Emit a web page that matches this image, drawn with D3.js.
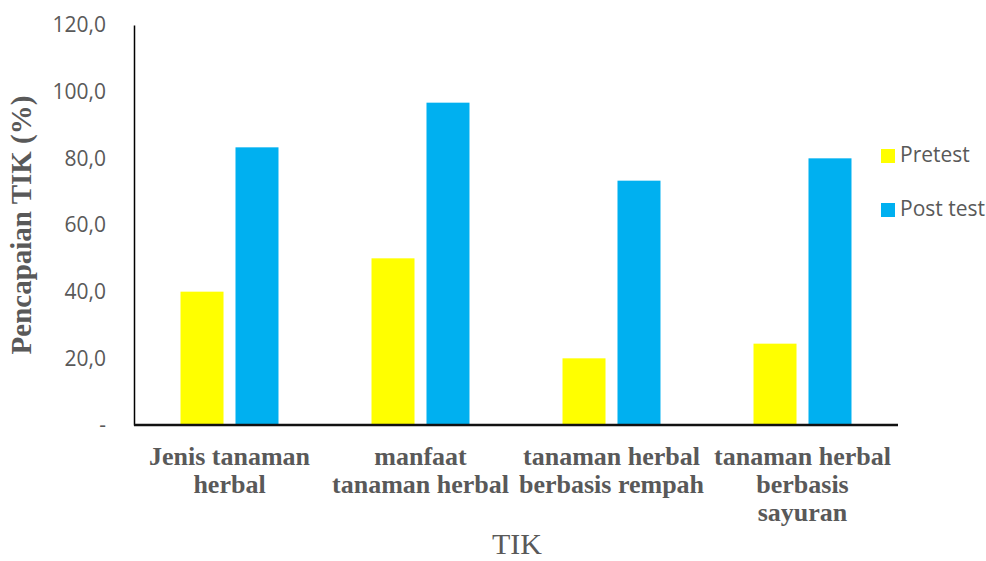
<!DOCTYPE html>
<html>
<head>
<meta charset="utf-8">
<script src="https://cdn.jsdelivr.net/npm/d3@7"></script>
<style>
  body { margin: 0; background: #fff; }
  svg { display: block; }
</style>
</head>
<body>
<svg width="986" height="561"></svg>
<script>
const categories = [
  ["Jenis tanaman", "herbal"],
  ["manfaat", "tanaman herbal"],
  ["tanaman herbal", "berbasis rempah"],
  ["tanaman herbal", "berbasis", "sayuran"]
];
const seriesNames = ["Pretest", "Post test"];
const pretest = [40.0, 50.0, 20.0, 24.4];
const posttest = [83.3, 96.7, 73.3, 80.0];
const yTicks = [0, 20, 40, 60, 80, 100, 120];
const colors = ["#ffff00", "#00b0f0"];

const svg = d3.select("svg"),
  margin = { top: 25, right: 88, bottom: 136, left: 134 },
  width = +svg.attr("width") - margin.left - margin.right,
  height = +svg.attr("height") - margin.top - margin.bottom,
  g = svg.append("g").attr("transform", `translate(${margin.left},${margin.top})`);

const grey = "#595959";

const x0 = d3.scaleBand()
  .domain(d3.range(categories.length))
  .range([0, width])
  .paddingInner(0.487)
  .paddingOuter(0.2435);

const x1 = d3.scaleBand()
  .domain(seriesNames)
  .range([0, x0.bandwidth()])
  .paddingInner(0.218);

const y = d3.scaleLinear().domain([0, 120]).range([height, 0]);

const color = d3.scaleOrdinal().domain(seriesNames).range(colors);

// data per kategori
const rows = categories.map((c, i) => ({
  i,
  values: [
    { key: "Pretest", value: pretest[i] },
    { key: "Post test", value: posttest[i] }
  ]
}));

// batang
g.selectAll(".grp")
  .data(rows)
  .enter()
  .append("g")
  .attr("class", "grp")
  .attr("transform", (d) => `translate(${x0(d.i)},0)`)
  .selectAll("rect")
  .data((d) => d.values)
  .enter()
  .append("rect")
  .attr("x", (d) => x1(d.key))
  .attr("y", (d) => y(d.value))
  .attr("width", x1.bandwidth())
  .attr("height", (d) => height - y(d.value))
  .attr("fill", (d) => color(d.key));

// sumbu Y
const yAxis = g.append("g")
  .call(d3.axisLeft(y).tickValues(yTicks).tickSize(0).tickPadding(28)
    .tickFormat((d) => d === 0 ? "-" : d.toFixed(1).replace(".", ",")));
yAxis.select(".domain").attr("stroke", "#000").attr("stroke-width", 1.5);
yAxis.selectAll("text")
  .attr("fill", grey)
  .style("font-family", "'Open Sans', sans-serif")
  .style("font-size", "21px");

// sumbu X
g.append("line")
  .attr("x1", 0).attr("x2", width)
  .attr("y1", height).attr("y2", height)
  .attr("stroke", "#111").attr("stroke-width", 2.5);

// label kategori
const xl = g.selectAll(".xlab")
  .data(categories)
  .enter()
  .append("text")
  .attr("class", "xlab")
  .attr("text-anchor", "middle")
  .attr("fill", grey)
  .style("font-family", "'Liberation Serif', 'Times New Roman', serif")
  .style("font-weight", "bold")
  .style("font-size", "26px")
  .attr("transform", (d, i) => `translate(${x0(i) + x0.bandwidth() / 2},${height + 40})`);

xl.selectAll("tspan")
  .data((d) => d)
  .enter()
  .append("tspan")
  .attr("x", 0)
  .attr("y", (d, j) => j * 28)
  .text((d) => d);

// judul sumbu
svg.append("text")
  .attr("transform", `translate(31,225) rotate(-90)`)
  .attr("text-anchor", "middle")
  .attr("fill", grey)
  .style("font-family", "'Liberation Serif', 'Times New Roman', serif")
  .style("font-weight", "bold")
  .style("font-size", "29px")
  .text("Pencapaian TIK (%)");

svg.append("text")
  .attr("x", 517)
  .attr("y", 554)
  .attr("text-anchor", "middle")
  .attr("fill", grey)
  .style("font-family", "'Liberation Serif', 'Times New Roman', serif")
  .style("font-size", "30px")
  .text("TIK");

// legenda
const legend = svg.append("g").attr("transform", "translate(881,149)");
const li = legend.selectAll(".li")
  .data(seriesNames)
  .enter()
  .append("g")
  .attr("transform", (d, i) => `translate(0,${i * 54})`);
li.append("rect")
  .attr("width", 14).attr("height", 14)
  .attr("fill", (d) => color(d));
li.append("text")
  .attr("x", 19).attr("y", 13)
  .attr("fill", grey)
  .style("font-family", "'Open Sans', sans-serif")
  .style("font-size", "21px")
  .text((d) => d);
</script>
</body>
</html>
